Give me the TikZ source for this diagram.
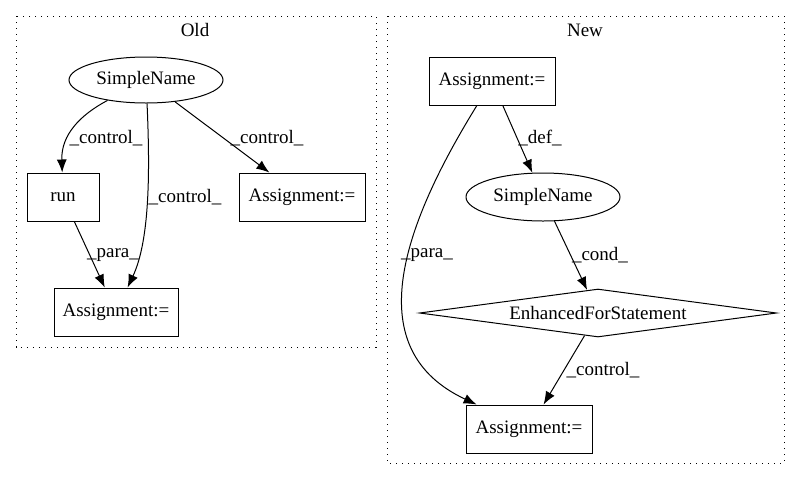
\documentclass[tikz,border=0pt]{standalone}
\usepackage{fontspec}
\setmainfont{Liberation Serif}
\usetikzlibrary{arrows.meta,shapes.geometric}
\tikzset{
    lbl/.style={font=\fontsize{19}{21}\selectfont, inner sep=0pt},
    box/.style={draw, rectangle, line width=1pt, minimum width=#1, minimum height=48pt, inner sep=0pt, font=\fontsize{19}{21}\selectfont},
    box/.default=126pt,
    oval/.style={draw, ellipse, line width=1pt, minimum width=154pt, minimum height=46pt, inner sep=0pt, font=\fontsize{19}{21}\selectfont},
    cond box/.style={draw, diamond, line width=1pt, aspect=7.4, minimum width=357pt, minimum height=48pt, inner sep=0pt, font=\fontsize{19}{21}\selectfont},
    flow/.style={line width=1pt, -{Latex[length=13pt,width=10pt]}},
    cluster/.style={line width=1pt, dash pattern=on 1.2pt off 4.8pt}}
\begin{document}
\begin{tikzpicture}[x=1pt,y=-1pt]
\useasboundingbox (0,0) rectangle (800,480);
% clusters
\draw[cluster] (16,16) rectangle (376,347);
\draw[cluster] (387,16) rectangle (784,463);
\node[lbl] (tOld) at (195,30) {Old};
\node[lbl] (tNew) at (585,30) {New};

% old
\node[oval] (osn) at (146,80) {SimpleName};
\node[box=72pt] (orun) at (63,197) {run};
\node[box] (oa1) at (302,197) {Assignment:=};
\node[box=124pt] (oa2) at (116,312) {Assignment:=};
\draw[flow] (osn) .. controls (80,115) and (61,135) .. (orun);
\draw[flow] (osn) .. controls (150,170) and (150,240) .. (oa2);
\draw[flow] (osn) -- (oa1);
\draw[flow] (orun) -- (oa2);
\node[lbl] (l1) at (106,138) {\_control\_};
\node[lbl] (l2) at (185,197) {\_control\_};
\node[lbl] (l3) at (267,138) {\_control\_};
\node[lbl] (l4) at (113,255) {\_para\_};

% new
\node[box] (na1) at (492,81) {Assignment:=};
\node[oval, minimum height=48pt] (nsn) at (543,197) {SimpleName};
\node[cond box] (nfor) at (598,313) {EnhancedForStatement};
\node[box] (na2) at (529,429) {Assignment:=};
\draw[flow] (na1) -- (nsn);
\draw[flow] (nsn) -- (nfor);
\draw[flow] (nfor) -- (na2);
\draw[flow] (na1) .. controls (400,230) and (360,350) .. (na2);
\node[lbl] (l5) at (540,138) {\_def\_};
\node[lbl] (l6) at (427,255) {\_para\_};
\node[lbl] (l7) at (600,255) {\_cond\_};
\node[lbl] (l8) at (603,370) {\_control\_};
\end{tikzpicture}
\end{document}
